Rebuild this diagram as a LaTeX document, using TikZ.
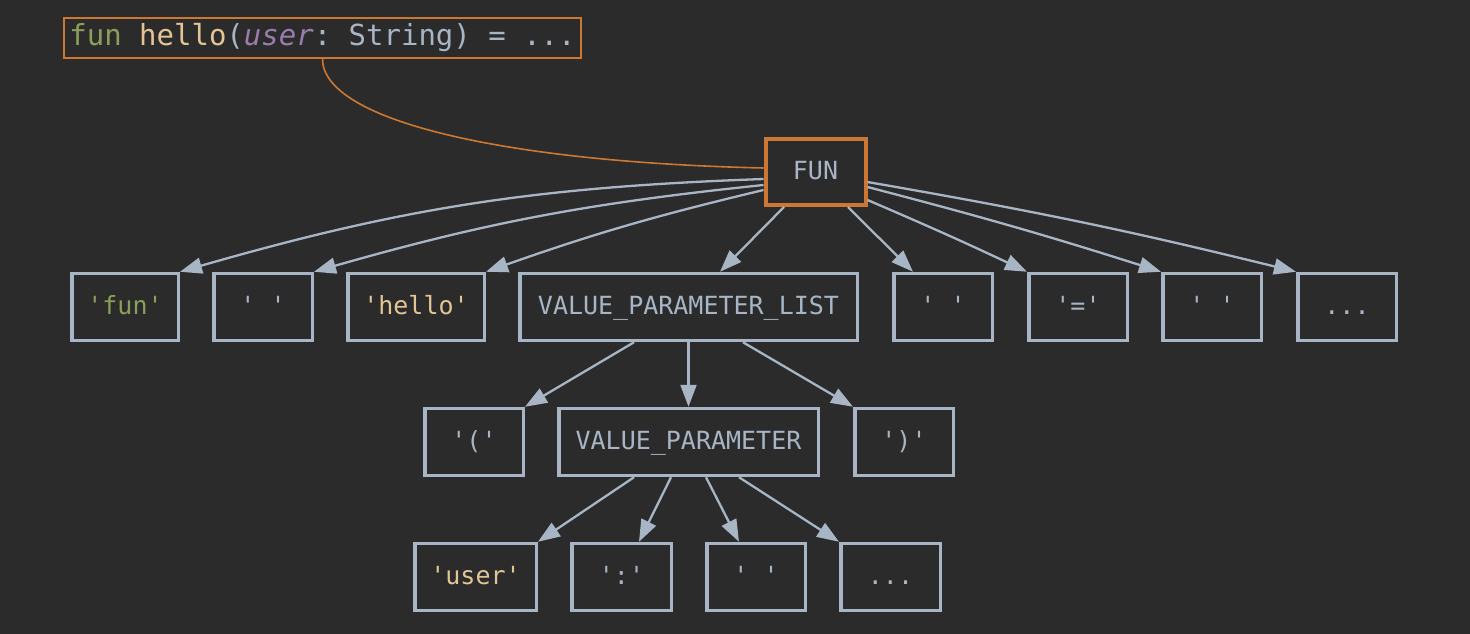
\documentclass[tikz,border=0pt]{standalone}
\usepackage{fontspec}
\setmonofont{DejaVu Sans Mono}
\usetikzlibrary{arrows.meta,calc}
\definecolor{bgc}{HTML}{2B2B2B}
\definecolor{gry}{HTML}{A7B5C5}
\definecolor{org}{HTML}{CC7832}
\definecolor{grn}{HTML}{8AA05A}
\definecolor{tan}{HTML}{E2C495}
\definecolor{prp}{HTML}{9C7BAF}
\tikzset{
  box/.style={draw=gry, line width=3.5pt, minimum height=67pt, inner sep=0pt,
    text=gry, font=\fontsize{25}{30}\selectfont\ttfamily, text height=18pt, text depth=3pt},
  funbox/.style={box, draw=org, line width=4pt, minimum width=100pt, minimum height=66pt},
  codebox/.style={draw=org, line width=1.6pt, minimum width=517pt, minimum height=40pt,
    inner sep=0pt, text=gry, font=\fontsize{29}{34}\selectfont\ttfamily},
  edge/.style={draw=gry, line width=2.3pt, -{Triangle[length=22pt,width=16pt]}},
  link/.style={draw=org, line width=1.6pt}
}
\begin{document}
\begin{tikzpicture}[x=1pt,y=-1pt]
\fill[bgc] (0,0) rectangle (1470,634);
\useasboundingbox (0,0) rectangle (1470,634);
% code
\node[codebox] (code) at (322.5,38) {\textcolor{grn}{fun} \textcolor{tan}{hello}(\textcolor{prp}{\itshape user}: String) = ...};
% root
\node[funbox] (F) at (815.5,172) {FUN};
% row 1
\node[box, minimum width=106.5pt] (a1) at (125,307) {\textcolor{grn}{'fun'}};
\node[box, minimum width=98.5pt] (a2) at (263,307) {'\ '};
\node[box, minimum width=136.5pt] (a3) at (416,307) {\textcolor{tan}{'hello'}};
\node[box, minimum width=337.5pt] (vpl) at (688.5,307) {VALUE\_PARAMETER\_LIST};
\node[box, minimum width=98.5pt] (a5) at (943,307) {'\ '};
\node[box, minimum width=98.5pt] (a6) at (1078,307) {'='};
\node[box, minimum width=98.5pt] (a7) at (1212,307) {'\ '};
\node[box, minimum width=98.5pt] (a8) at (1347,307) {...};
% row 2
\node[box, minimum width=98.5pt] (b1) at (474,442) {'('};
\node[box, minimum width=259.5pt] (vp) at (688.5,442) {VALUE\_PARAMETER};
\node[box, minimum width=98.5pt] (b3) at (904,442) {')'};
% row 3
\node[box, minimum width=121.5pt] (c1) at (475.5,577) {\textcolor{tan}{'user'}};
\node[box, minimum width=99.5pt] (c2) at (621.5,577) {':'};
\node[box, minimum width=98.5pt] (c3) at (756,577) {'\ '};
\node[box, minimum width=99.5pt] (c4) at (890.5,577) {...};
% orange link
\draw[link] (code.south) .. controls ($(code.south)+(0,61)$) and (500,162) .. ($(F.west)+(0,-4)$);
% edges from FUN
\draw[edge] ($(F.west)+(0,7)$) to[bend right=7] (a1.north east);
\draw[edge] ($(F.west)+(0,13)$) to[bend right=5] (a2.north east);
\draw[edge] ($(F.west)+(0,18)$) to[bend right=3] (a3.north east);
\draw[edge] ($(F.south)+(-31.5,0)$) -- ($(vpl.north)+(31.5,0)$);
\draw[edge] ($(F.south)+(32.5,0)$) -- ($(a5.north)+(-30,0)$);
\draw[edge] ($(F.east)+(0,28)$) to[bend left=1] (a6.north west);
\draw[edge] ($(F.east)+(0,15)$) to[bend left=1.5] (a7.north west);
\draw[edge] ($(F.east)+(0,10)$) to[bend left=2] (a8.north west);
% edges from VALUE_PARAMETER_LIST
\draw[edge] ($(vpl.south)+(-54.5,0)$) -- (b1.north east);
\draw[edge] (vpl.south) -- (vp.north);
\draw[edge] ($(vpl.south)+(54.5,0)$) -- (b3.north west);
% edges from VALUE_PARAMETER
\draw[edge] ($(vp.south)+(-54.5,0)$) -- (c1.north east);
\draw[edge] ($(vp.south)+(-17.5,0)$) -- ($(c2.north)+(17.5,0)$);
\draw[edge] ($(vp.south)+(17.5,0)$) -- ($(c3.north)+(-17,0)$);
\draw[edge] ($(vp.south)+(50.5,0)$) -- (c4.north west);
\end{tikzpicture}
\end{document}
